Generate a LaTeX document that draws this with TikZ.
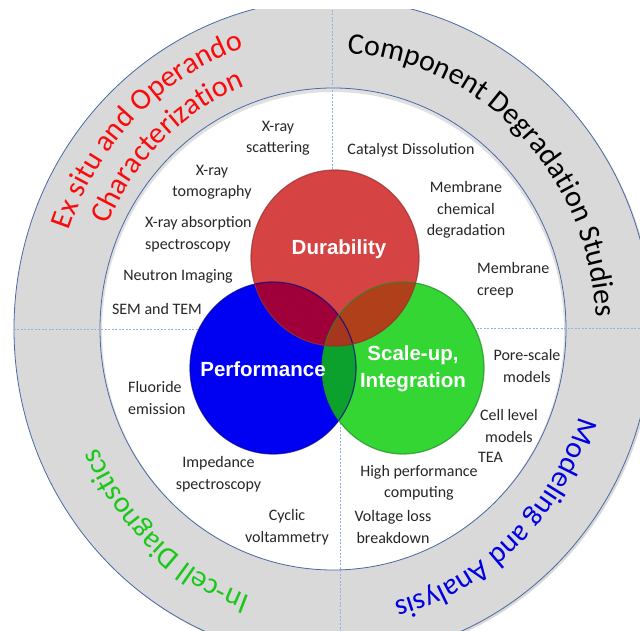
\documentclass[tikz,border=0pt]{standalone}
\usepackage{fontspec}
\setmainfont{Carlito}
\newfontfamily\labfont{Liberation Sans}
\usetikzlibrary{decorations.text,shadows}
\definecolor{ringgray}{RGB}{217,217,217}
\definecolor{rimblue}{RGB}{75,105,165}
\definecolor{dotblue}{RGB}{150,175,225}
\definecolor{rojo}{RGB}{214,67,67}
\definecolor{azul}{RGB}{0,0,242}
\definecolor{verde}{RGB}{51,214,51}
\definecolor{rojoazul}{RGB}{160,0,58}
\definecolor{rojoverde}{RGB}{176,64,26}
\definecolor{azulverde}{RGB}{12,160,45}
\definecolor{centro}{RGB}{165,55,30}
\definecolor{txtred}{RGB}{250,10,10}
\definecolor{txtgreen}{RGB}{25,200,25}
\definecolor{txtblue}{RGB}{0,0,225}
\newcommand\ringfont{\fontsize{30}{36}\selectfont}

\begin{document}
\begin{tikzpicture}[x=1pt,y=1pt,
  lbl/.style={font=\fontsize{16}{21.5}\selectfont,align=center,inner sep=0pt,text=black!85},
  venn/.style={font=\labfont\bfseries\fontsize{20.5}{27}\selectfont,text=white,align=center,inner sep=0pt},
  rim/.style={draw=#1,line width=1.2pt,draw opacity=0.7},
  sep/.style={dotblue,line width=0.7pt,dash pattern=on 2pt off 1.5pt}]
\useasboundingbox (-333,-302) rectangle (307,329);
\coordinate (o) at (0,0);
\begin{scope}
\clip (-333,-302) rectangle (307,319);
% ring
\fill[ringgray,drop shadow={opacity=0.3,shadow xshift=2pt,shadow yshift=-2pt}] (o) ellipse [x radius=319pt,y radius=330pt];
\draw[rimblue,line width=0.8pt] (o) ellipse [x radius=319pt,y radius=330pt];
\fill[white] (o) ellipse [x radius=233pt,y radius=241pt];
\begin{scope}
\clip (o) ellipse [x radius=233pt,y radius=241pt];
\draw[black,line width=4pt,opacity=0.12] ([yshift=-2pt]o) ellipse [x radius=233pt,y radius=241pt];
\end{scope}
\draw[rimblue,line width=0.8pt] (o) ellipse [x radius=233pt,y radius=241pt];
% quadrant lines
\draw[sep] (-1,319) -- (-1,0);
\draw[sep] (7,0) -- (7,-302);
\draw[sep] (-319,0) -- (0,0);
\draw[sep] (0,1) -- (307,1);
\end{scope}

% ring titles
\path[decorate,decoration={text along path,text align=center,
  text={|\ringfont\color{txtred}|Ex situ and Operando}}]
  (180:280pt and 296pt) arc [start angle=180,end angle=88,x radius=280pt,y radius=296pt];
\path[decorate,decoration={text along path,text align=center,
  text={|\ringfont\color{txtred}|Characterization}}]
  (180:246pt and 260pt) arc [start angle=180,end angle=86,x radius=246pt,y radius=260pt];
\path[decorate,decoration={text along path,text align=center,
  text={|\ringfont\color{black}|Component Degradation Studies}}]
  (100:263pt and 276pt) arc [start angle=100,end angle=-10,x radius=263pt,y radius=276pt];
\path[decorate,decoration={text along path,text align=center,
  text={|\ringfont\color{txtblue}|Modeling and Analysis}}]
  (0:259pt and 281pt) arc [start angle=0,end angle=-96,x radius=259pt,y radius=281pt];
\path[decorate,decoration={text along path,text align=center,
  text={|\ringfont\color{txtgreen}|In-cell Diagnostics}}]
  (-85:259pt and 282pt) arc [start angle=-85,end angle=-177,x radius=259pt,y radius=282pt];

% techniques
\node[lbl] (xscat) at (-55,191) {X-ray\\scattering};
\node[lbl] (xtomo) at (-121,147) {X-ray\\tomography};
\node[lbl,align=left,anchor=west] (xabs) at (-188,95) {X-ray absorption\\spectroscopy};
\node[lbl] (neut) at (-155,53) {Neutron Imaging};
\node[lbl] (sem) at (-176,20) {SEM and TEM};
\node[lbl,align=left,anchor=west] (fluor) at (-205,-69) {Fluoride\\emission};
\node[lbl] (imped) at (-114.5,-145) {Impedance\\spectroscopy};
\node[lbl] (cyc) at (-46,-198) {Cyclic\\voltammetry};
\node[lbl] (cat) at (78,179) {Catalyst Dissolution};
\node[lbl] (memchem) at (133,119) {Membrane\\chemical\\degradation};
\node[lbl,align=left,anchor=west] (creep) at (144,49) {Membrane\\creep};
\node[lbl] (pore) at (194,-37) {Pore-scale\\models};
\node[lbl] (cell) at (176,-97) {Cell level\\models};
\node[lbl,anchor=west] (tea) at (145,-128) {TEA};
\node[lbl] (hpc) at (86,-154) {High performance\\computing};
\node[lbl] (volt) at (60,-198) {Voltage loss\\breakdown};

% venn circles
\coordinate (dur) at (2,71);
\coordinate (perf) at (-60,-39);
\coordinate (scal) at (70,-39);
\fill[azul] (perf) ellipse [x radius=83pt,y radius=86pt];
\fill[verde] (scal) ellipse [x radius=81pt,y radius=86pt];
\fill[rojo] (dur) ellipse [x radius=84pt,y radius=88pt];
\begin{scope}
\clip (perf) ellipse [x radius=83pt,y radius=86pt];
\fill[azulverde] (scal) ellipse [x radius=81pt,y radius=86pt];
\end{scope}
\begin{scope}
\clip (dur) ellipse [x radius=84pt,y radius=88pt];
\fill[rojoazul] (perf) ellipse [x radius=83pt,y radius=86pt];
\fill[rojoverde] (scal) ellipse [x radius=81pt,y radius=86pt];
\clip (perf) ellipse [x radius=83pt,y radius=86pt];
\fill[centro] (scal) ellipse [x radius=81pt,y radius=86pt];
\end{scope}
\draw[rim=azul!60!black] (perf) ellipse [x radius=83pt,y radius=86pt];
\draw[rim=verde!65!black] (scal) ellipse [x radius=81pt,y radius=86pt];
\draw[rim=rojo!70!black] (dur) ellipse [x radius=84pt,y radius=88pt];
\node[venn] (durl) at (6,80) {Durability};
\node[venn] (perfl) at (-70,-40) {Performance};
\node[venn] (scall) at (80,-40) {Scale-up,\\Integration};
\end{tikzpicture}
\end{document}
